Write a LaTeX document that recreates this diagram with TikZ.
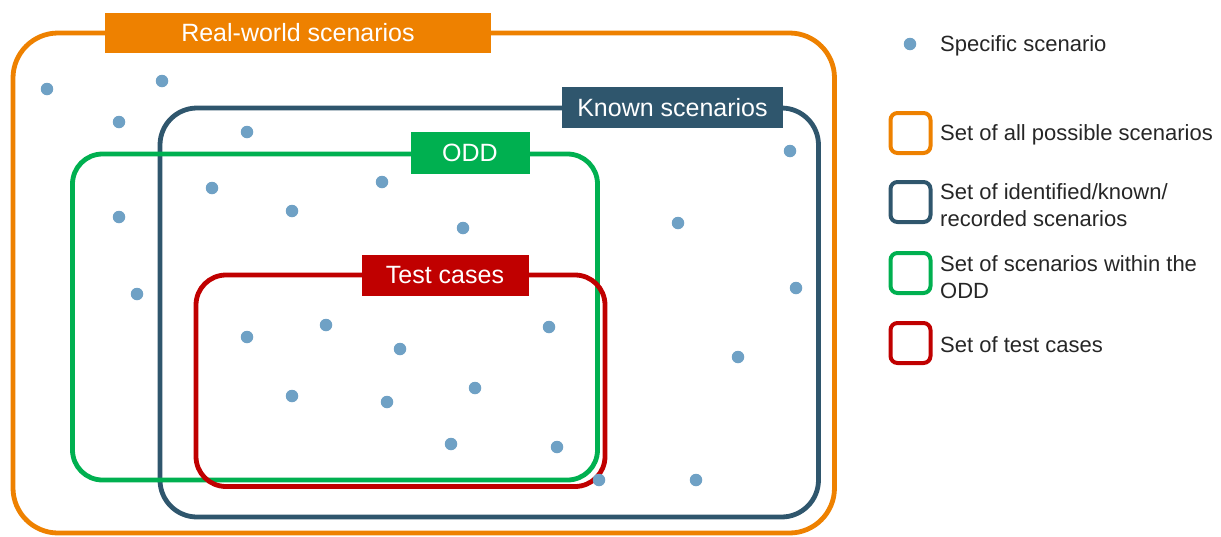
\documentclass[tikz,border=0pt]{standalone}
\usepackage{fontspec}
\setmainfont{Liberation Sans}
\definecolor{realorange}{HTML}{EE8100}
\definecolor{knownblue}{HTML}{2F566D}
\definecolor{oddgreen}{HTML}{00B050}
\definecolor{testred}{HTML}{C00000}
\definecolor{dotblue}{HTML}{6FA1C5}
\definecolor{legendtext}{HTML}{262626}
\begin{document}
\begin{tikzpicture}[x=1pt,y=-1pt,
  setbox/.style={rectangle,draw=#1,line width=4.8pt,inner sep=0,outer sep=0},
  tagbox/.style={rectangle,fill=#1,text=white,inner sep=0,outer sep=0,
    font=\fontsize{25}{30}\selectfont},
  scen/.style={circle,fill=dotblue,inner sep=0,minimum size=12.5pt},
  legbox/.style={rectangle,draw=#1,line width=4pt,rounded corners=7pt,
    minimum width=40pt,minimum height=40pt,inner sep=0},
  legtext/.style={anchor=west,align=left,text=legendtext,inner sep=0,
    font=\fontsize{22}{26.5}\selectfont},
]
\useasboundingbox (0,0) rectangle (1221,536);

% nested scenario sets
\node[setbox=realorange,rounded corners=45pt,minimum width=821.5pt,minimum height=500pt] (real) at (423.75,283) {};
\node[setbox=knownblue,rounded corners=37pt,minimum width=658.5pt,minimum height=409pt] (known) at (489.25,312.5) {};
\node[setbox=oddgreen,rounded corners=30pt,minimum width=525pt,minimum height=326pt] (odd) at (335,317) {};
\node[setbox=testred,rounded corners=30pt,minimum width=409pt,minimum height=211.5pt] (test) at (400.5,380.75) {};

% title tags on the frames
\node[tagbox=realorange,minimum width=386pt,minimum height=40pt] (realtag) at (298,32.5) {Real-world scenarios};
\node[tagbox=knownblue,minimum width=221pt,minimum height=41pt] (knowntag) at (672.5,107.5) {Known scenarios};
\node[tagbox=oddgreen,minimum width=119pt,minimum height=42pt] (oddtag) at (470,153) {ODD};
\node[tagbox=testred,minimum width=167pt,minimum height=41pt] (testtag) at (445,275.5) {Test cases};

% individual scenarios
\foreach \x/\y [count=\i] in {
  47/89, 162/81, 119/122, 247/132, 790/151, 212/188, 382/182, 292/211,
  119/217, 463/228, 678/223, 137/294, 796/288, 247/337, 326/325, 400/349,
  549/327, 738/357, 292/396, 387/402, 475/388, 451/444, 557/447, 599/480,
  696/480}
  \node[scen] (s\i) at (\x,\y) {};

% legend
\node[scen] (legdot) at (910,44) {};
\node[legtext] (legdottxt) at (940,45.5) {Specific scenario};
\node[legbox=realorange] (legreal) at (910.5,133) {};
\node[legtext] (legrealtxt) at (940,134.5) {Set of all possible scenarios};
\node[legbox=knownblue] (legknown) at (910.5,202) {};
\node[legtext] (legknowntxt) at (940,205) {Set of identified/known/\\recorded scenarios};
\node[legbox=oddgreen] (legodd) at (910.5,273) {};
\node[legtext] (legoddtxt) at (940,277) {Set of scenarios within the\\ODD};
\node[legbox=testred] (legtest) at (910.5,343) {};
\node[legtext] (legtesttxt) at (940,344.5) {Set of test cases};
\end{tikzpicture}
\end{document}
